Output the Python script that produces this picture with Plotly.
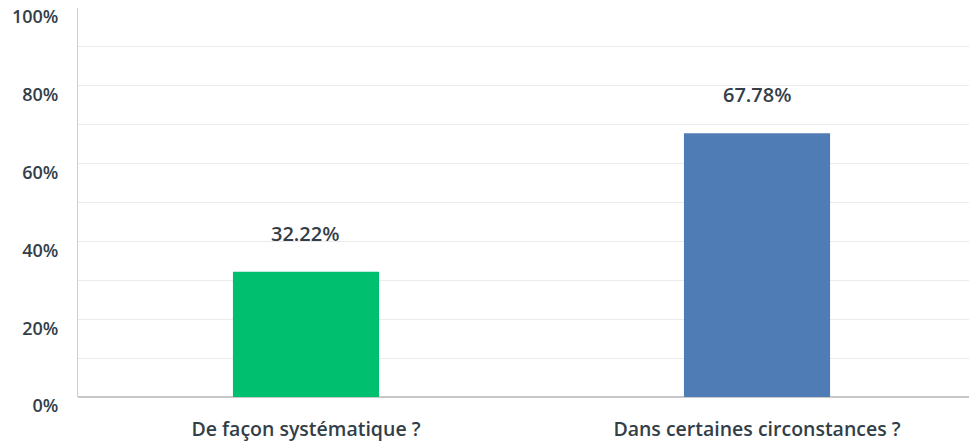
import plotly.graph_objects as go

categories = ["De façon systématique ?", "Dans certaines circonstances ?"]
values = [32.22, 67.78]
bar_colors = ["#00bf6f", "#507cb6"]
tick_vals = [0, 10, 20, 30, 40, 50, 60, 70, 80, 90, 100]
tick_text = ["0%", "", "20%", "", "40%", "", "60%", "", "80%", "", "100%"]

FONT = "Open Sans"
TXT = "#333e48"

fig = go.Figure()
fig.add_trace(go.Bar(
    x=categories, y=values, marker=dict(color=bar_colors, line=dict(width=0)),
    width=0.324, hoverinfo="skip",
))
for c, v in zip(categories, values):
    fig.add_annotation(x=c, y=v, text=f"{v:.2f}%", showarrow=False,
                       yanchor="bottom", yshift=23,
                       font=dict(family=FONT, size=20, color=TXT, weight=600))

fig.update_layout(
    width=969, height=447,
    margin=dict(l=78, r=0, t=8, b=50, autoexpand=False),
    paper_bgcolor="white", plot_bgcolor="white",
    showlegend=False,
    font=dict(family=FONT, color=TXT),
    xaxis=dict(range=[-0.5055, 1.47], showgrid=False, showline=False,
               ticks="", ticklabelstandoff=18, automargin=False,
               tickfont=dict(family=FONT, size=19.5, color=TXT, weight=600),
               zeroline=False),
    yaxis=dict(range=[0, 100], tickvals=tick_vals, ticktext=tick_text,
               showgrid=True, gridcolor="#ebebeb", gridwidth=1,
               showline=True, linecolor="#cfcfcf", linewidth=1,
               ticks="", ticklabelstandoff=15, ticklabelshift=9, automargin=False,
               tickfont=dict(family=FONT, size=18, color=TXT, weight=600),
               zeroline=True, zerolinecolor="#c8c8c8", zerolinewidth=2),
)
fig.write_html("out.html", config={"displayModeBar": False},
               post_script="document.body.style.margin='0';document.body.style.padding='0';")
